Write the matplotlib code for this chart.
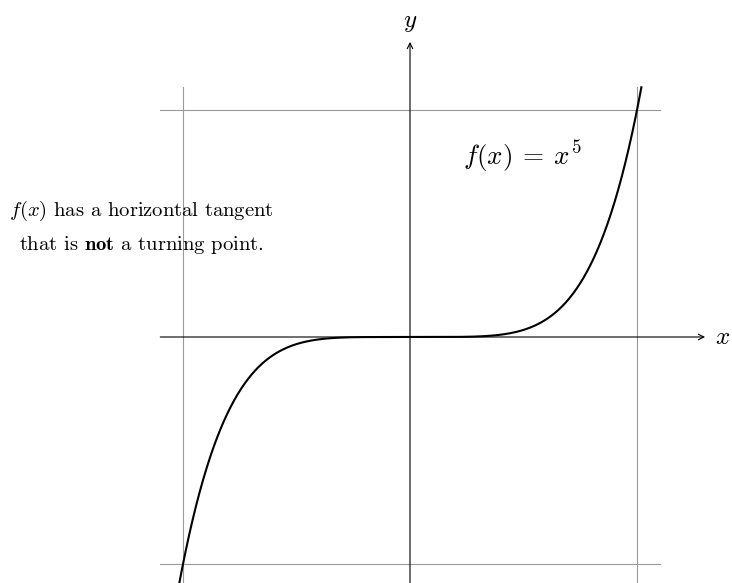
import numpy as np
import matplotlib
matplotlib.use("Agg")
import matplotlib.pyplot as plt

plt.rcParams['mathtext.fontset'] = 'cm'
plt.rcParams['axes.unicode_minus'] = False

# data
exponent = 5
grid_x = [-1, 1]
grid_y = [-1, 1]
grid_extent = 1.1
x_axis_range = [-1.1, 1.3]
y_axis_range = [-1.2, 1.3]
x_curve = np.linspace(-grid_extent ** (1 / exponent), grid_extent ** (1 / exponent), 400)
y_curve = x_curve ** exponent

fig = plt.figure(figsize=(7.32, 5.83), dpi=100)
ax = fig.add_axes([0, 0, 1, 1])
ax.set_xlim(-410 / 227, (732 - 410) / 227)
ax.set_ylim((337 - 583) / 227, 337 / 227)
ax.axis('off')

gray = '#9a9a9a'
for gx in grid_x:
    ax.plot([gx, gx], [-grid_extent, grid_extent], color=gray, lw=0.8, zorder=1)
for gy in grid_y:
    ax.plot([-grid_extent, grid_extent], [gy, gy], color=gray, lw=0.8, zorder=1)

# axes with arrows
ax.annotate('', xy=(x_axis_range[1], 0), xytext=(x_axis_range[0], 0),
            arrowprops=dict(arrowstyle='->', lw=0.8, color='black', shrinkA=0, shrinkB=0,
                            mutation_scale=10), zorder=2)
ax.annotate('', xy=(0, y_axis_range[1]), xytext=(0, y_axis_range[0]),
            arrowprops=dict(arrowstyle='->', lw=0.8, color='black', shrinkA=0, shrinkB=0,
                            mutation_scale=10), zorder=2)
ax.text((723 - 410) / 227, 0.0, r'$x$', fontsize=18, ha='center', va='center')
ax.text(0, (337 - 22) / 227, r'$y$', fontsize=18, ha='center', va='center')

ax.plot(x_curve, y_curve, color='black', lw=1.5, zorder=3)

ax.text((522 - 410) / 227, (337 - 157) / 227, r'$f(x)\:=\:x^5$', fontsize=19.5, ha='center', va='center')

ax.text((141 - 410) / 227, (337 - 211) / 227, r'$f(x)$ has a horizontal tangent', fontsize=14.8,
        family='cmr10', ha='center', va='center')
ax.text((141 - 410) / 227, (337 - 245) / 227, r'that is $\mathbf{not}$ a turning point.', fontsize=14.8,
        family='cmr10', ha='center', va='center')

fig.savefig('out.png', dpi=100)
